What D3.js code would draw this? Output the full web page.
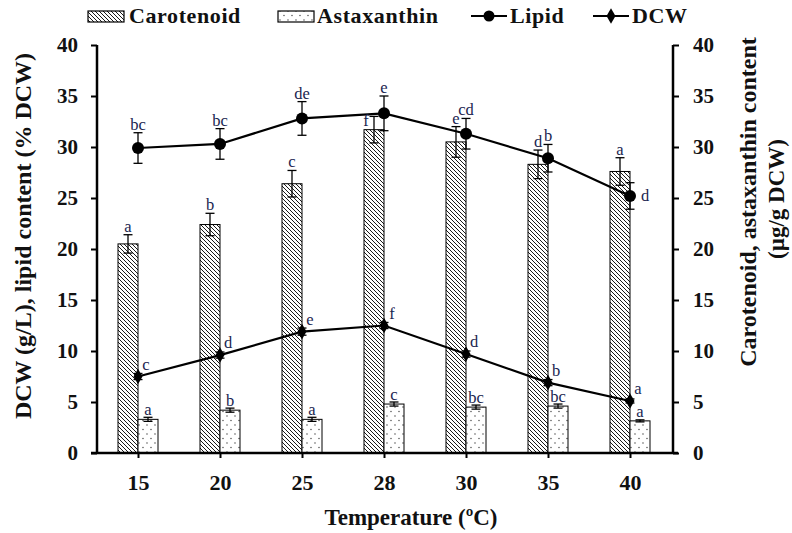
<!DOCTYPE html>
<html>
<head>
<meta charset="utf-8">
<script src="https://cdn.jsdelivr.net/npm/d3@7"></script>
<style>
  body { margin: 0; background: #fff; }
  svg text { font-family: "Liberation Serif", "Times New Roman", serif; }
  .tick text { font-weight: bold; fill: #111; }
  .axis-title { font-weight: bold; fill: #111; }
  .sig { font-size: 16.5px; fill: #1a2550; }
</style>
</head>
<body>
<svg id="chart"></svg>
<script>
// Temperature categories (ºC)
const temps = ['15', '20', '25', '28', '30', '35', '40'];

// Bars (right axis, µg/g DCW)
const carotenoid = [20.5, 22.4, 26.4, 31.7, 30.5, 28.3, 27.6];
const carotenoidErr = [0.9, 1.1, 1.3, 1.3, 1.5, 1.4, 1.35];
const carotenoidSig = ['a', 'b', 'c', 'f', 'e', 'd', 'a'];

const astaxanthin = [3.3, 4.2, 3.3, 4.8, 4.5, 4.6, 3.15];
const astaxanthinErr = [0.2, 0.2, 0.2, 0.2, 0.2, 0.2, 0.1];
const astaxanthinSig = ['a', 'b', 'a', 'c', 'bc', 'bc', 'a'];

// Lines (left axis)
const lipid = [29.9, 30.3, 32.8, 33.3, 31.3, 28.9, 25.2];
const lipidErr = [1.5, 1.5, 1.65, 1.7, 1.5, 1.35, 1.3];
const lipidSig = ['bc', 'bc', 'de', 'e', 'cd', 'b', 'd'];

const dcw = [7.5, 9.6, 11.9, 12.5, 9.7, 6.9, 5.1];
const dcwErr = [0.3, 0.3, 0.35, 0.3, 0.3, 0.3, 0.2];
const dcwSig = ['c', 'd', 'e', 'f', 'd', 'b', 'a'];

const yTicks = [0, 5, 10, 15, 20, 25, 30, 35, 40];

const config = {
  width: 792, height: 533,
  margin: {top: 45, right: 119, bottom: 80, left: 97},
  barWidth: 20,
  capHalf: 4.5
};

const svg = d3.select('#chart')
    .attr('width', config.width)
    .attr('height', config.height);

const w = config.width - config.margin.left - config.margin.right;
const h = config.height - config.margin.top - config.margin.bottom;

const defs = svg.append('defs');
// diagonal hatch for carotenoid
defs.append('pattern')
    .attr('id', 'hatch')
    .attr('patternUnits', 'userSpaceOnUse')
    .attr('width', 4).attr('height', 4)
  .append('path')
    .attr('d', 'M-1,-1L5,5M3,-1L5,1M-1,3L1,5')
    .attr('stroke', '#000')
    .attr('stroke-width', 0.9);
// sparse dots for astaxanthin
const dots = defs.append('pattern')
    .attr('id', 'dots')
    .attr('patternUnits', 'userSpaceOnUse')
    .attr('width', 8).attr('height', 9);
dots.append('rect').attr('width', 8).attr('height', 9).attr('fill', '#fff');
dots.selectAll('circle')
    .data([[2, 2], [6, 6.5]])
    .join('circle')
    .attr('cx', d => d[0]).attr('cy', d => d[1])
    .attr('r', 0.65).attr('fill', '#333');

const chart = svg.append('g')
    .attr('transform', `translate(${config.margin.left},${config.margin.top})`);

const x = d3.scalePoint()
    .domain(temps)
    .range([41, 41 + 6 * 82]);

const y = d3.scaleLinear().domain([0, 40]).range([h, 0]);
const y2 = d3.scaleLinear().domain([0, 40]).range([h, 0]);

// build rows
const rows = temps.map((t, i) => ({
  t,
  car: carotenoid[i], carE: carotenoidErr[i], carS: carotenoidSig[i],
  ast: astaxanthin[i], astE: astaxanthinErr[i], astS: astaxanthinSig[i],
  lip: lipid[i], lipE: lipidErr[i], lipS: lipidSig[i],
  dcw: dcw[i], dcwE: dcwErr[i], dcwS: dcwSig[i]
}));

// label nudges where letters were placed by hand in the original
const nudge = {
  car: {'28': [-8, 13]},
  lip: {'40': [11, 0]}
};

// bars
chart.selectAll('.car-bar')
    .data(rows)
  .join('rect')
    .attr('class', 'car-bar')
    .attr('x', d => x(d.t) - config.barWidth)
    .attr('y', d => y2(d.car))
    .attr('width', config.barWidth)
    .attr('height', d => h - y2(d.car))
    .attr('fill', 'url(#hatch)')
    .attr('stroke', '#000')
    .attr('stroke-width', 1);

chart.selectAll('.ast-bar')
    .data(rows)
  .join('rect')
    .attr('class', 'ast-bar')
    .attr('x', d => x(d.t))
    .attr('y', d => y2(d.ast))
    .attr('width', config.barWidth)
    .attr('height', d => h - y2(d.ast))
    .attr('fill', 'url(#dots)')
    .attr('stroke', '#000')
    .attr('stroke-width', 1);

function errorBars(cls, data, cx, val, err, scale) {
  const g = chart.selectAll('.' + cls)
      .data(data)
    .join('g')
      .attr('class', cls)
      .attr('stroke', '#000')
      .attr('stroke-width', 1.3);
  g.append('line')
      .attr('x1', cx).attr('x2', cx)
      .attr('y1', d => scale(val(d) + err(d)))
      .attr('y2', d => scale(val(d) - err(d)));
  g.append('line')
      .attr('x1', d => cx(d) - config.capHalf).attr('x2', d => cx(d) + config.capHalf)
      .attr('y1', d => scale(val(d) + err(d))).attr('y2', d => scale(val(d) + err(d)));
  g.append('line')
      .attr('x1', d => cx(d) - config.capHalf).attr('x2', d => cx(d) + config.capHalf)
      .attr('y1', d => scale(val(d) - err(d))).attr('y2', d => scale(val(d) - err(d)));
}

errorBars('car-err', rows, d => x(d.t) - config.barWidth / 2, d => d.car, d => d.carE, y2);
errorBars('ast-err', rows, d => x(d.t) + config.barWidth / 2, d => d.ast, d => d.astE, y2);

// lines
const lipidLine = d3.line().x(d => x(d.t)).y(d => y(d.lip));
const dcwLine = d3.line().x(d => x(d.t)).y(d => y(d.dcw));

chart.append('path')
    .datum(rows)
    .attr('d', lipidLine)
    .attr('fill', 'none')
    .attr('stroke', '#000')
    .attr('stroke-width', 2.2);

chart.append('path')
    .datum(rows)
    .attr('d', dcwLine)
    .attr('fill', 'none')
    .attr('stroke', '#000')
    .attr('stroke-width', 2.2);

errorBars('lip-err', rows, d => x(d.t), d => d.lip, d => d.lipE, y);
errorBars('dcw-err', rows, d => x(d.t), d => d.dcw, d => d.dcwE, y);

chart.selectAll('.lip-pt')
    .data(rows)
  .join('circle')
    .attr('class', 'lip-pt')
    .attr('cx', d => x(d.t))
    .attr('cy', d => y(d.lip))
    .attr('r', 6)
    .attr('fill', '#000');

const diamond = d3.symbol().type(d3.symbolDiamond).size(70);
chart.selectAll('.dcw-pt')
    .data(rows)
  .join('path')
    .attr('class', 'dcw-pt')
    .attr('d', diamond)
    .attr('transform', d => `translate(${x(d.t)},${y(d.dcw)})`)
    .attr('fill', '#000');

// significance letters
function letters(key, cx, cy, txt) {
  chart.selectAll('.sig-' + key)
      .data(rows)
    .join('text')
      .attr('class', 'sig sig-' + key)
      .attr('text-anchor', 'middle')
      .attr('x', d => cx(d) + ((nudge[key] || {})[d.t] || [0, 0])[0])
      .attr('y', d => cy(d) + ((nudge[key] || {})[d.t] || [0, 0])[1])
      .text(txt);
}
letters('car', d => x(d.t) - config.barWidth / 2, d => y2(d.car + d.carE) - 3, d => d.carS);
letters('ast', d => x(d.t) + config.barWidth / 2, d => y2(d.ast + d.astE) - 2.5, d => d.astS);
letters('lip', d => x(d.t), d => y(d.lip + d.lipE) - 3, d => d.lipS);
// lipid 40 label sits beside the point
chart.selectAll('.sig-lip')
    .filter(d => d.t === '40')
    .attr('text-anchor', 'start')
    .attr('y', d => y(d.lip) + 5);
letters('dcw', d => x(d.t) + 8, d => y(d.dcw) - 7, d => d.dcwS);

// axes
const yAxis = d3.axisLeft(y).tickValues(yTicks).tickSize(6).tickPadding(13);
const y2Axis = d3.axisRight(y2).tickValues(yTicks).tickSize(6).tickPadding(14);
const xAxis = d3.axisBottom(x).tickSize(5).tickPadding(16);

const yAxisG = chart.append('g').call(yAxis);
const y2AxisG = chart.append('g').attr('transform', `translate(${w},0)`).call(y2Axis);
const xAxisG = chart.append('g').attr('transform', `translate(0,${h})`).call(xAxis);

[yAxisG, y2AxisG, xAxisG].forEach(g => {
  g.select('.domain').remove();
  g.selectAll('.tick line').attr('stroke', '#000').attr('stroke-width', 2);
});
yAxisG.selectAll('.tick text').style('font-size', '21px');
y2AxisG.selectAll('.tick text').style('font-size', '21px');
xAxisG.selectAll('.tick text').style('font-size', '22px');

// axis lines
chart.append('line').attr('x1', 0).attr('x2', 0).attr('y1', 0).attr('y2', h)
    .attr('stroke', '#000').attr('stroke-width', 2.5);
chart.append('line').attr('x1', w).attr('x2', w).attr('y1', 0).attr('y2', h)
    .attr('stroke', '#000').attr('stroke-width', 2.5);
chart.append('line').attr('x1', -6).attr('x2', w + 5).attr('y1', h).attr('y2', h)
    .attr('stroke', '#000').attr('stroke-width', 2.5);

// axis titles
svg.append('text')
    .attr('class', 'axis-title')
    .attr('x', 411).attr('y', 525)
    .attr('text-anchor', 'middle')
    .style('font-size', '23px')
    .text('Temperature (ºC)');

svg.append('text')
    .attr('class', 'axis-title')
    .attr('transform', 'translate(31,236) rotate(-90)')
    .attr('text-anchor', 'middle')
    .style('font-size', '24px')
    .text('DCW (g/L), lipid content (% DCW)');

svg.append('text')
    .attr('class', 'axis-title')
    .attr('transform', 'translate(756,202) rotate(-90)')
    .attr('text-anchor', 'middle')
    .style('font-size', '24px')
    .text('Carotenoid, astaxanthin content');

svg.append('text')
    .attr('class', 'axis-title')
    .attr('transform', 'translate(784,199) rotate(-90)')
    .attr('text-anchor', 'middle')
    .style('font-size', '23px')
    .text('(µg/g DCW)');

// legend
const legend = svg.append('g').attr('class', 'legend');
const legendItems = [
  {name: 'Carotenoid', kind: 'hatch', x: 88},
  {name: 'Astaxanthin', kind: 'dots', x: 278},
  {name: 'Lipid', kind: 'circle', x: 471},
  {name: 'DCW', kind: 'diamond', x: 593}
];
legendItems.forEach(item => {
  const g = legend.append('g').attr('transform', `translate(${item.x},0)`);
  if (item.kind === 'hatch' || item.kind === 'dots') {
    g.append('rect')
        .attr('x', 0).attr('y', 11)
        .attr('width', 36).attr('height', 11)
        .attr('fill', `url(#${item.kind})`)
        .attr('stroke', '#000').attr('stroke-width', 1.2);
  } else {
    g.append('line')
        .attr('x1', 0).attr('x2', 36).attr('y1', 16).attr('y2', 16)
        .attr('stroke', '#000').attr('stroke-width', 2.2);
    if (item.kind === 'circle') {
      g.append('circle').attr('cx', 18).attr('cy', 16).attr('r', 5.5).attr('fill', '#000');
    } else {
      g.append('path').attr('d', diamond).attr('transform', 'translate(18,16)').attr('fill', '#000');
    }
  }
  g.append('text')
      .attr('x', item.kind === 'hatch' ? 41 : 39)
      .attr('y', 23)
      .style('font-size', '22px')
      .style('font-weight', 'bold')
      .style('letter-spacing', '0.6px')
      .attr('fill', '#111')
      .text(item.name);
});
</script>
</body>
</html>
